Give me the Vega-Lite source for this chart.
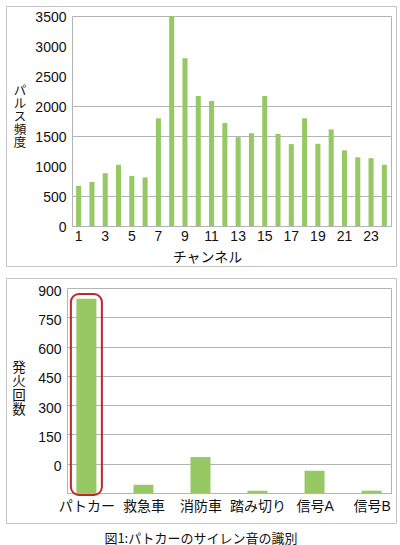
{
  "$schema": "https://vega.github.io/schema/vega-lite/v6.json",
  "padding": {"left": 5, "top": 5, "right": 5, "bottom": 0},
  "background": "white",
  "config": {
    "font": "Liberation Sans, Noto Sans CJK JP",
    "view": {"stroke": "#c4c4c4"},
    "axis": {
      "labelFont": "Liberation Sans, Noto Sans CJK JP",
      "titleFont": "Noto Sans CJK JP",
      "labelColor": "#111111",
      "titleColor": "#111111",
      "titleFontWeight": "normal",
      "labelFontSize": 14,
      "ticks": false,
      "domainColor": "#b4b4b4",
      "gridColor": "#b4b4b4"
    },
    "concat": {"spacing": 10}
  },
  "title": {
    "text": "図1:パトカーのサイレン音の識別",
    "orient": "bottom",
    "anchor": "middle",
    "font": "Noto Sans CJK JP",
    "fontSize": 13,
    "fontWeight": "normal",
    "color": "#111111",
    "offset": 9
  },
  "vconcat": [
    {
      "width": 390,
      "height": 260,
      "data": {
        "values": [
          {"ch": 1, "pulses": 670},
          {"ch": 2, "pulses": 735},
          {"ch": 3, "pulses": 880},
          {"ch": 4, "pulses": 1020},
          {"ch": 5, "pulses": 835},
          {"ch": 6, "pulses": 810},
          {"ch": 7, "pulses": 1795},
          {"ch": 8, "pulses": 3500},
          {"ch": 9, "pulses": 2795},
          {"ch": 10, "pulses": 2165},
          {"ch": 11, "pulses": 2085},
          {"ch": 12, "pulses": 1715},
          {"ch": 13, "pulses": 1480},
          {"ch": 14, "pulses": 1545},
          {"ch": 15, "pulses": 2165},
          {"ch": 16, "pulses": 1535},
          {"ch": 17, "pulses": 1365},
          {"ch": 18, "pulses": 1795},
          {"ch": 19, "pulses": 1370},
          {"ch": 20, "pulses": 1610},
          {"ch": 21, "pulses": 1260},
          {"ch": 22, "pulses": 1145},
          {"ch": 23, "pulses": 1130},
          {"ch": 24, "pulses": 1020}
        ]
      },
      "layer": [
        {
          "mark": {"type": "bar", "color": "#96c864", "width": {"band": 0.38}},
          "encoding": {
            "x": {
              "field": "ch",
              "type": "ordinal",
              "scale": {"type": "band", "range": [66, 385], "paddingInner": 0, "paddingOuter": 0},
              "axis": {
                "orient": "bottom",
                "offset": -40,
                "labelAngle": 0,
                "labelPadding": 3,
                "labelExpr": "datum.value % 2 == 1 ? datum.label : ''",
                "grid": false,
                "title": "チャンネル",
                "titleFontSize": 14,
                "titleX": 201,
                "titleY": 31,
                "titleBaseline": "middle"
              }
            },
            "y": {
              "field": "pulses",
              "type": "quantitative",
              "scale": {"domain": [0, 3500], "range": [220, 10], "nice": false},
              "axis": {
                "orient": "left",
                "offset": -66,
                "values": [0, 500, 1000, 1500, 2000, 2500, 3000, 3500],
                "format": "d",
                "grid": true,
                "gridOpacity": {"condition": {"test": "datum.value == 1000 || datum.value == 2500 || datum.value == 3000", "value": 0}, "value": 1},
                "labelPadding": 6,
                "labelOffset": 1.5,
                "title": ["パ", "ル", "ス", "頻", "度"],
                "titleFontSize": 12.5,
                "titleLineHeight": 13,
                "titleAngle": 0,
                "titleAlign": "center",
                "titleBaseline": "top",
                "titleX": -52.5,
                "titleY": 78
              }
            }
          }
        },
        {
          "mark": {"type": "bar", "opacity": 0, "width": {"band": 0.38}},
          "encoding": {
            "x": {"field": "ch", "type": "ordinal"},
            "y": {
              "field": "pulses",
              "type": "quantitative",
              "axis": {"orient": "right", "offset": -5, "labels": false, "grid": false, "title": null}
            }
          }
        }
      ],
      "resolve": {"axis": {"y": "independent"}}
    },
    {
      "width": 390,
      "height": 245,
      "layer": [
        {
          "data": {
            "values": [
              {"cat": "パトカー", "count": 845},
              {"cat": "救急車", "count": -108},
              {"cat": "消防車", "count": 34},
              {"cat": "踏み切り", "count": -138},
              {"cat": "信号A", "count": -36},
              {"cat": "信号B", "count": -138}
            ]
          },
          "mark": {"type": "bar", "color": "#96c864", "width": 20},
          "encoding": {
            "x": {
              "field": "cat",
              "type": "nominal",
              "sort": null,
              "scale": {"type": "point", "range": [61, 385], "padding": 0.34},
              "axis": {
                "orient": "bottom",
                "offset": -30,
                "labelAngle": 0,
                "labelPadding": 6,
                "labelFontSize": 14,
                "grid": false,
                "title": null
              }
            },
            "y": {
              "field": "count",
              "type": "quantitative",
              "scale": {"domain": [-150, 900], "range": [215, 10], "nice": false, "zero": false},
              "axis": {
                "orient": "left",
                "offset": -61,
                "values": [-150, 0, 150, 300, 450, 600, 750, 900],
                "format": "d",
                "labelExpr": "datum.value < 0 ? '' : datum.label",
                "grid": true,
                "labelPadding": 6,
                "labelOffset": 3,
                "title": ["発", "火", "回", "数"],
                "titleFontSize": 13.5,
                "titleLineHeight": 14,
                "titleAngle": 0,
                "titleAlign": "center",
                "titleBaseline": "top",
                "titleX": -48.5,
                "titleY": 82
              }
            },
            "y2": {"datum": -150}
          }
        },
        {
          "data": {"values": [{"cat": "パトカー"}]},
          "mark": {"type": "bar", "filled": false, "color": "#c0272d", "strokeWidth": 2, "cornerRadius": 8, "width": 31},
          "encoding": {
            "x": {"field": "cat", "type": "nominal", "sort": null},
            "y": {
              "datum": 869,
              "type": "quantitative",
              "axis": {"orient": "right", "offset": -5, "labels": false, "grid": false, "title": null}
            },
            "y2": {"datum": -160}
          }
        }
      ],
      "resolve": {"axis": {"y": "independent"}}
    }
  ]
}
